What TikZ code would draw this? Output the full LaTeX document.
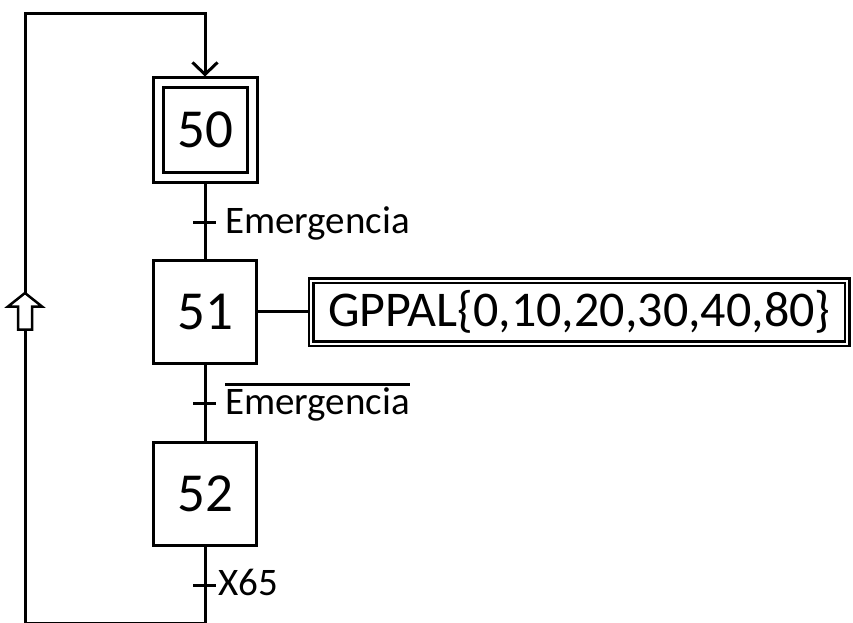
\documentclass[tikz,border=0pt]{standalone}
\usepackage{fontspec}
\setmainfont{Carlito}
\usetikzlibrary{arrows.meta, calc, positioning}

% receptividad negada, con raya encima
\newcommand{\negada}[1]{\setbox0=\hbox{#1}\rlap{\rule[0.72em]{\wd0}{2.5pt}}\box0}

\tikzset{
  enlace/.style={line width=3pt},
  etapa/.style={draw, line width=3pt, minimum size=103pt, inner sep=0pt,
    font=\fontsize{55}{60}\selectfont},
  etapainicial/.style={etapa, double, double distance=7pt, minimum size=94pt, outer sep=6.5pt},
  accion/.style={draw, line width=2.5pt, double, double distance=2pt,
    minimum width=536pt, minimum height=63pt, inner sep=0pt, outer sep=3.5pt,
    font=\fontsize{50}{56}\selectfont},
  receptividad/.style={anchor=base west, inner sep=0pt, font=\fontsize{39}{44}\selectfont},
  flechahueca/.style={line width=2.5pt, fill=white, line join=miter},
}

\begin{document}
\begin{tikzpicture}[x=1pt, y=-1pt]
    \useasboundingbox (0,0) rectangle (853,623);

    % etapas
    \node[etapainicial] (s50) at (205, 130) {50};
    \node[etapa] (s51) at (205, 311.5) {51};
    \node[etapa] (s52) at (205, 494) {52};

    % accion asociada a la etapa 51
    \node[accion] (a51) at (579.2, 312) {GPPAL\{0,10,20,30,40,80\}};

    % transiciones
    \coordinate (t1) at (205, 222);
    \coordinate (t2) at (205, 403);
    \coordinate (t3) at (205, 585);

    % esquinas del bucle de retorno
    \coordinate (abajo) at (205, 623);
    \coordinate (arriba) at (25, 14);
    \coordinate (entrada) at (205, 14);
    \coordinate (sube) at (25, 311);

    \draw[enlace] (s50.south) -- (s51.north);
    \draw[enlace] (s51.south) -- (s52.north);
    \draw[enlace] (s51.east) -- (s51.east -| a51.west);
    \draw[enlace, -{Straight Barb[length=12pt, width=25pt]}]
        (s52.south) -- (abajo) -| (arriba) -- (entrada) -- (s50.north);

    % marcas de transicion
    \draw[enlace] ([xshift=-12pt]t1) -- ([xshift=11pt]t1);
    \draw[enlace] ([xshift=-12pt]t2) -- ([xshift=11pt]t2);
    \draw[enlace] ([xshift=-12pt]t3) -- ([xshift=11pt]t3);

    \node[receptividad] (r1) at ([xshift=20pt, yshift=-11pt]t1) {Emergencia};
    \node[receptividad] (r2) at ([xshift=20pt, yshift=-11pt]t2) {\negada{Emergencia}};
    \node[receptividad] (r3) at ([xshift=13pt, yshift=-10pt]t3) {X65};

    % flecha hueca de sentido
    \draw[flechahueca] (sube) ++(0,-18) -- ++(17,13.5) -- ++(-10,0) -- ++(0,23)
        -- ++(-14,0) -- ++(0,-23) -- ++(-10,0) -- cycle;
\end{tikzpicture}
\end{document}
